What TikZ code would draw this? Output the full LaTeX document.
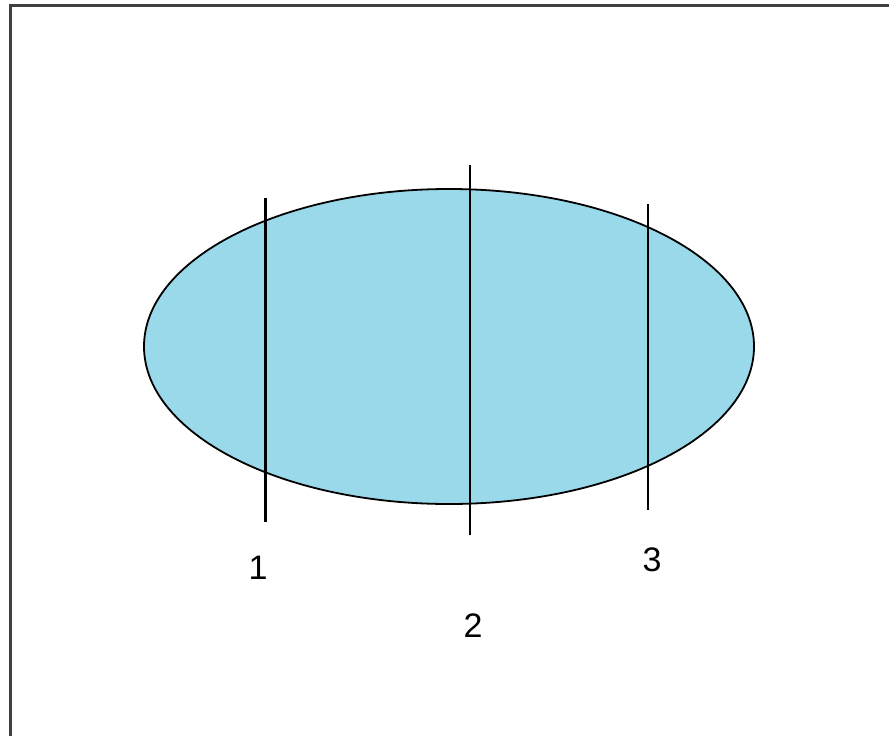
\documentclass[tikz,border=0pt]{standalone}
\usepackage{fontspec}
\setmainfont{Liberation Sans}
\definecolor{paintblue}{RGB}{153,217,234}
\tikzset{
  cutlabel/.style={font=\fontsize{34}{40}\selectfont},
}
\begin{document}
\begin{tikzpicture}[x=1pt, y=-1pt]
  \useasboundingbox (0,0) rectangle (889,736);
  \clip (0,0) rectangle (889,736);
  \fill[white] (0,0) rectangle (889,736);

  % frame, running off the right and bottom edges
  \draw[line width=3pt, black!75] (10,5) rectangle (905,750);

  % the ellipse
  \draw[fill=paintblue, line width=1.8pt] (449,346.5) ellipse (305 and 157.5);

  % the three cuts
  \draw[line width=3pt] (265,198) -- (265,522);
  \draw[line width=1.8pt] (470,165) -- (470,535);
  \draw[line width=1.8pt] (648,204) -- (648,510);

  \node[cutlabel] (one) at (258,568) {1};
  \node[cutlabel] (two) at (473,626) {2};
  \node[cutlabel] (three) at (652,560) {3};
\end{tikzpicture}
\end{document}
